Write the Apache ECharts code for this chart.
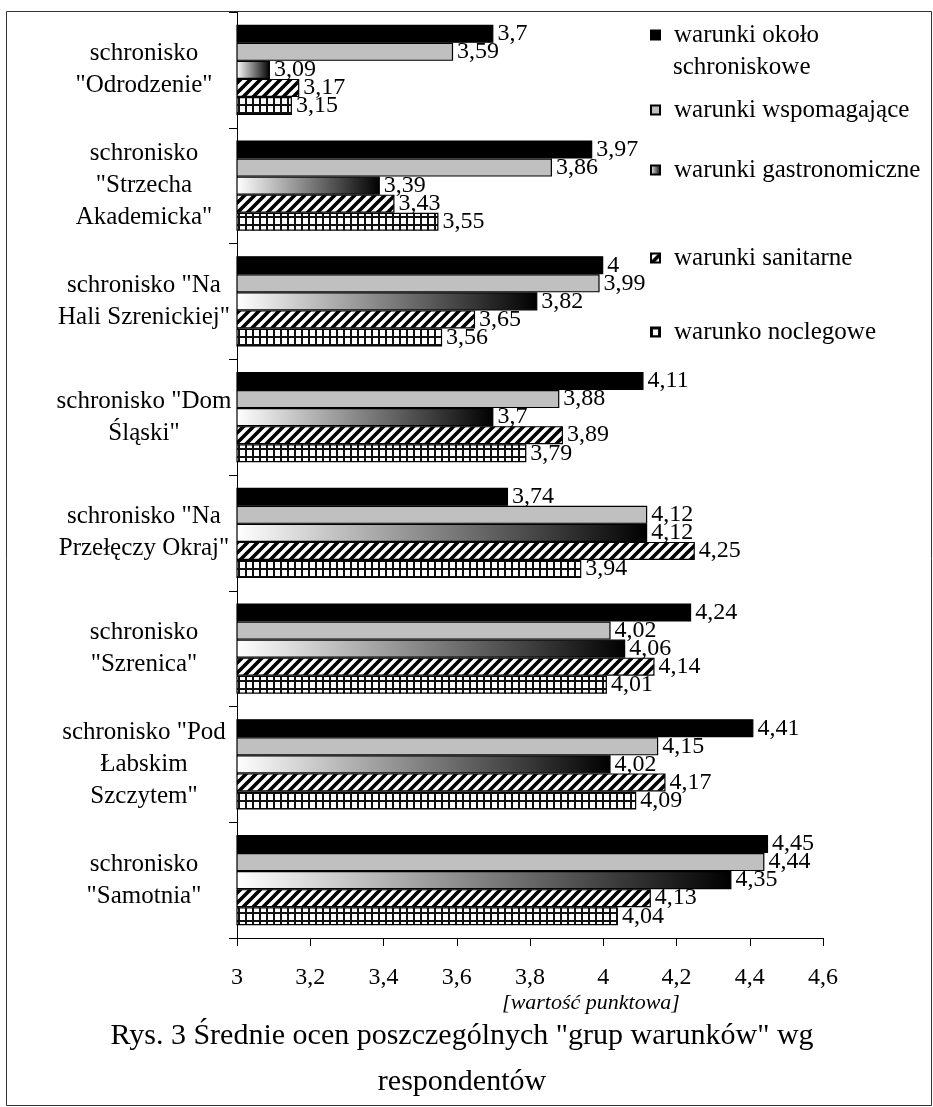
<!DOCTYPE html>
<html>
<head>
<meta charset="utf-8">
<script src="https://cdn.jsdelivr.net/npm/echarts@6/dist/echarts.min.js"></script>
<style>
html,body{margin:0;padding:0;background:#fff;}
#c{width:933px;height:1107px;}
</style>
</head>
<body>
<div id="c"></div>
<script>
const categories = [
  'schronisko\n"Odrodzenie"',
  'schronisko\n"Strzecha\nAkademicka"',
  'schronisko "Na\nHali Szrenickiej"',
  'schronisko "Dom\nŚląski"',
  'schronisko "Na\nPrzełęczy Okraj"',
  'schronisko\n"Szrenica"',
  'schronisko "Pod\nŁabskim\nSzczytem"',
  'schronisko\n"Samotnia"'
];
const seriesNames = ['warunki około schroniskowe','warunki wspomagające','warunki gastronomiczne','warunki sanitarne','warunko noclegowe'];
const okoloSchroniskowe = [3.7, 3.97, 4, 4.11, 3.74, 4.24, 4.41, 4.45];
const wspomagajace      = [3.59, 3.86, 3.99, 3.88, 4.12, 4.02, 4.15, 4.44];
const gastronomiczne    = [3.09, 3.39, 3.82, 3.7, 4.12, 4.06, 4.02, 4.35];
const sanitarne         = [3.17, 3.43, 3.65, 3.89, 4.25, 4.14, 4.17, 4.13];
const noclegowe         = [3.15, 3.55, 3.56, 3.79, 3.94, 4.01, 4.09, 4.04];
const xTicks = ['3','3,2','3,4','3,6','3,8','4','4,2','4,4','4,6'];

const FONT = '"Liberation Serif", "Times New Roman", serif';

function hatchPattern(){
  const c = document.createElement('canvas');
  c.width = 10; c.height = 10;
  const g = c.getContext('2d');
  g.fillStyle = '#fff'; g.fillRect(0,0,10,10);
  g.strokeStyle = '#000'; g.lineWidth = 3.6;
  g.beginPath();
  g.moveTo(-2,12); g.lineTo(12,-2);
  g.moveTo(-7,7); g.lineTo(7,-7);
  g.moveTo(3,17); g.lineTo(17,3);
  g.stroke();
  return c;
}
function gridPattern(){
  const c = document.createElement('canvas');
  c.width = 7; c.height = 8;
  const g = c.getContext('2d');
  g.fillStyle = '#fff'; g.fillRect(0,0,7,8);
  g.fillStyle = '#111';
  g.fillRect(0,0,7,2);
  g.fillRect(0,0,2,8);
  return c;
}

const fmt = p => String(p.value).replace('.', ',');
const colors = [
  '#000000',
  '#c0c0c0',
  new echarts.graphic.LinearGradient(0,0,1,0,[{offset:0,color:'#ffffff'},{offset:1,color:'#000000'}]),
  {image: hatchPattern(), repeat:'repeat'},
  {image: gridPattern(), repeat:'repeat'}
];
const dataSets = [okoloSchroniskowe, wspomagajace, gastronomiczne, sanitarne, noclegowe];

const series = dataSets.map((d,i)=>({
  name: seriesNames[i],
  type: 'bar',
  data: d,
  barGap: '0%',
  barCategoryGap: '22%',
  itemStyle: {color: colors[i], borderColor:'#000', borderWidth:1.2},
  label: {show:true, position:'right', distance:4, formatter: fmt,
          color:'#000', fontFamily: FONT, fontSize:24},
  emphasis:{disabled:true},
  animation:false
}));

const legendCenters = [35, 110, 170, 258, 332];
const legends = seriesNames.map((n,i)=>({
  data:[n],
  orient:'vertical',
  left:650,
  top: legendCenters[i]-15,
  padding:0,
  itemWidth:9,
  itemHeight:9,
  icon:'rect',
  selectedMode:false,
  formatter: i===0 ? (()=> 'warunki około') : undefined,
  textStyle:{fontFamily:FONT, fontSize:25, color:'#000', lineHeight:30, padding:[0,0,0,9]}
}));

const chart = echarts.init(document.getElementById('c'), null, {renderer:'canvas'});
chart.setOption({
  animation:false,
  backgroundColor:'#fff',
  grid:{left:237, right:110, top:12, bottom:169, containLabel:false},
  legend: legends,
  xAxis:{
    type:'value', min:3, max:4.6, interval:0.2,
    axisLine:{show:true, lineStyle:{color:'#000', width:1}},
    axisTick:{show:true, length:8, lineStyle:{color:'#000'}},
    splitLine:{show:false},
    axisLabel:{margin:28, fontFamily:FONT, fontSize:24, color:'#000',
      formatter: (v)=> xTicks[Math.round((v-3)/0.2)]}
  },
  yAxis:{
    type:'category', data:categories, inverse:true,
    axisLine:{show:true, lineStyle:{color:'#000', width:1}},
    axisTick:{show:true, length:8, lineStyle:{color:'#000'}},
    axisLabel:{margin:93, align:'center', fontFamily:FONT, fontSize:25, color:'#000', lineHeight:32}
  },
  series: series,
  graphic:[
    {type:'rect', shape:{x:6.5, y:11.5, width:925, height:1094}, style:{fill:'none', stroke:'#333', lineWidth:1}, silent:true, z:100},
    {type:'text', x:673, y:67, style:{text:'schroniskowe', font:'25px '+FONT, fill:'#000', align:'left', verticalAlign:'middle'}},
    {type:'text', x:591, y:1003, style:{text:'[wartość punktowa]', font:'italic 22px '+FONT, fill:'#000', align:'center', verticalAlign:'middle'}},
    {type:'text', x:462, y:1013, style:{text:'Rys. 3 Średnie ocen poszczególnych "grup warunków" wg\nrespondentów', font:'30px '+FONT, fill:'#000', align:'center', verticalAlign:'top', lineHeight:46}}
  ]
});
</script>
</body>
</html>
